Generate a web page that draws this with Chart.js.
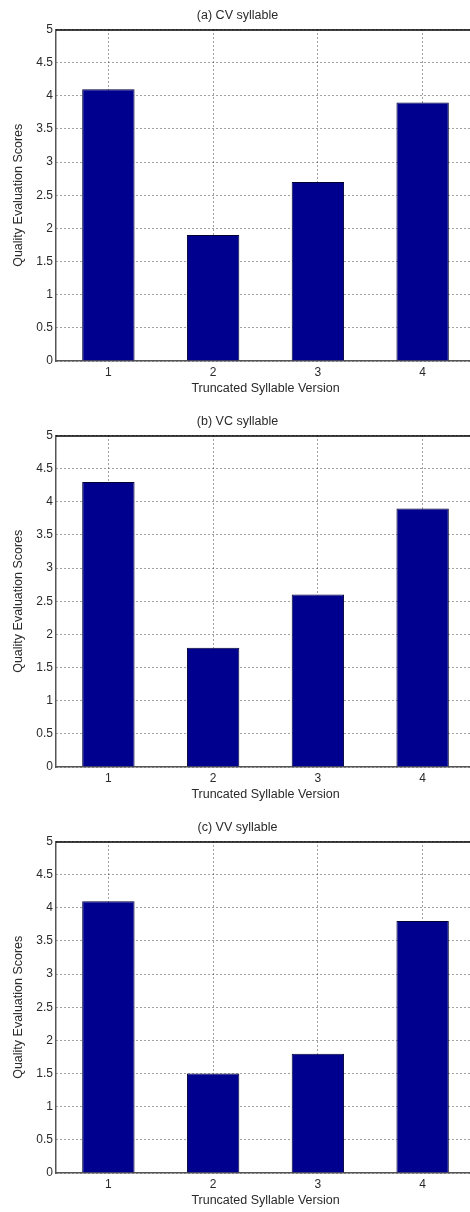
<!DOCTYPE html>
<html>
<head>
<meta charset="utf-8">
<script src="https://cdn.jsdelivr.net/npm/chart.js@4.4.1/dist/chart.umd.min.js"></script>
<style>
  html, body { margin: 0; padding: 0; background: #fff; overflow: hidden; }
  .panel { position: absolute; left: 0; width: 480px; height: 406px; }
</style>
</head>
<body>
<div class="panel" style="top:0px"><canvas id="chartA"></canvas></div>
<div class="panel" style="top:406px"><canvas id="chartB"></canvas></div>
<div class="panel" style="top:812px"><canvas id="chartC"></canvas></div>
<script>
const versions = ['1', '2', '3', '4'];
const cvScores = [4.1, 1.9, 2.7, 3.9];
const vcScores = [4.3, 1.8, 2.6, 3.9];
const vvScores = [4.1, 1.5, 1.8, 3.8];
const yTickValues = [0, 0.5, 1, 1.5, 2, 2.5, 3, 3.5, 4, 4.5, 5];

const FAMILY = "'Liberation Sans', Arial, sans-serif";
const TICK_FONT = { family: FAMILY, size: 12 };
const LABEL_FONT = { family: FAMILY, size: 12.5 };
const TEXT_COLOR = '#2a2a2a';

// top edge of the axes box (MATLAB "box on")
const topBorder = {
  id: 'topBorder',
  afterDatasetsDraw(chart) {
    const { ctx, chartArea } = chart;
    ctx.save();
    ctx.strokeStyle = '#000';
    ctx.lineWidth = 1.5;
    ctx.beginPath();
    ctx.moveTo(chartArea.left, chartArea.top + 0.5);
    ctx.lineTo(chartArea.right, chartArea.top + 0.5);
    ctx.stroke();
    ctx.restore();
  },
};

function makeChart(id, title, scores) {
  return new Chart(document.getElementById(id), {
    type: 'bar',
    data: {
      labels: versions,
      datasets: [{
        data: scores,
        backgroundColor: '#00008F',
        borderColor: '#000033',
        borderWidth: 1,
        barPercentage: 0.5,
        categoryPercentage: 1,
      }],
    },
    options: {
      responsive: true,
      maintainAspectRatio: false,
      animation: false,
      layout: { padding: { left: 0, right: 5, top: 0, bottom: 0 } },
      plugins: {
        legend: { display: false },
        tooltip: { enabled: false },
        title: {
          display: true,
          text: title,
          color: TEXT_COLOR,
          font: { family: FAMILY, size: 12.5, weight: 'normal' },
          padding: { top: 8, bottom: 6.5 },
        },
      },
      scales: {
        x: {
          offset: true,
          grid: { offset: false, color: '#444', drawTicks: false },
          border: { color: '#555', width: 1.5, dash: [1, 3] },
          ticks: { color: TEXT_COLOR, font: TICK_FONT, padding: 4, maxRotation: 0 },
          title: { display: true, text: 'Truncated Syllable Version', color: TEXT_COLOR, font: LABEL_FONT, padding: { top: 0, bottom: 9.5 } },
          afterFit(scale) { scale.height = 45; },
        },
        y: {
          min: 0,
          max: 5,
          afterBuildTicks(scale) { scale.ticks = yTickValues.map(v => ({ value: v })); },
          grid: { color: '#444', drawTicks: false },
          border: { color: '#555', width: 1.5, dash: [1, 3] },
          ticks: { color: TEXT_COLOR, font: TICK_FONT, padding: 3, callback: v => String(v) },
          title: { display: true, text: 'Quality Evaluation Scores', color: TEXT_COLOR, font: LABEL_FONT, padding: { top: 11, bottom: 0 } },
          afterFit(scale) { scale.width = 56; },
        },
      },
    },
    plugins: [topBorder],
  });
}

makeChart('chartA', '(a) CV syllable', cvScores);
makeChart('chartB', '(b) VC syllable', vcScores);
makeChart('chartC', '(c) VV syllable', vvScores);
</script>
</body>
</html>
